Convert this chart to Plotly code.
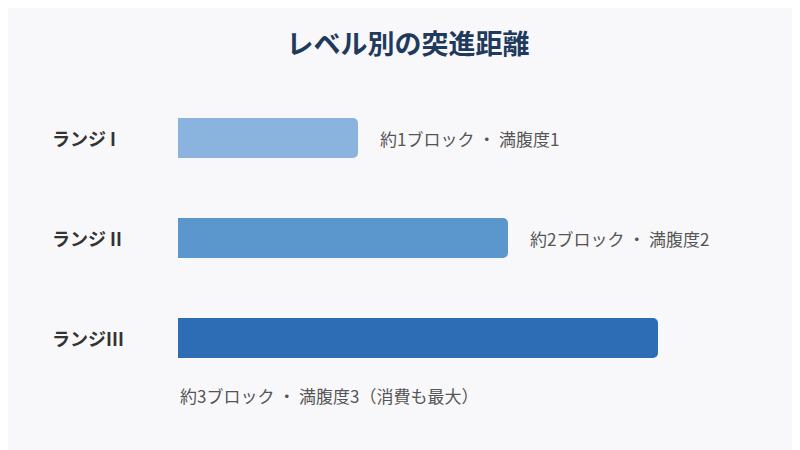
import plotly.graph_objects as go

categories = ["ランジ I", "ランジ II", "ランジIII"]
values = [1.2, 2.2, 3.2]
notes = ["約1ブロック ・ 満腹度1", "約2ブロック ・ 満腹度2", "約3ブロック ・ 満腹度3（消費も最大）"]
colors = ["#8ab4de", "#5b97cc", "#2d6db5"]
ypos = [0, 1, 2]

font = "Noto Sans CJK JP"
fig = go.Figure(go.Bar(x=values, y=ypos, orientation="h", width=0.4,
                       marker=dict(color=colors, cornerradius=5, line=dict(width=0)),
                       hoverinfo="skip"))
ann = []
for c, y in zip(categories, ypos):
    ann.append(dict(text=c, x=(42-170)/630, xref="paper", y=y, yref="y", xanchor="left",
                    showarrow=False, font=dict(size=18, color="#333333", family=font, weight="bold")))
for i, (n, v, y) in enumerate(zip(notes, values, ypos)):
    if i < 2:
        ann.append(dict(text=n, x=v, y=y, xanchor="left", xshift=20, showarrow=False,
                        font=dict(size=17, color="#555555", family=font)))
    else:
        ann.append(dict(text=n, x=0, y=y+0.57, xanchor="left", showarrow=False,
                        font=dict(size=17, color="#555555", family=font)))
fig.update_layout(
    width=800, height=450, paper_bgcolor="#f8f8fa", plot_bgcolor="#f8f8fa",
    margin=dict(l=170, r=0, t=80, b=50), showlegend=False,
    title=dict(text="<b>レベル別の突進距離</b>", x=0.5, xanchor="center", y=0.918, yanchor="middle",
               font=dict(size=27, color="#1f3a5c", family=font)),
    xaxis=dict(range=[0, 4.2], visible=False, fixedrange=True),
    yaxis=dict(range=[2.7, -0.5], visible=False, fixedrange=True),
    annotations=ann,
)
fig.write_html("out.html")
